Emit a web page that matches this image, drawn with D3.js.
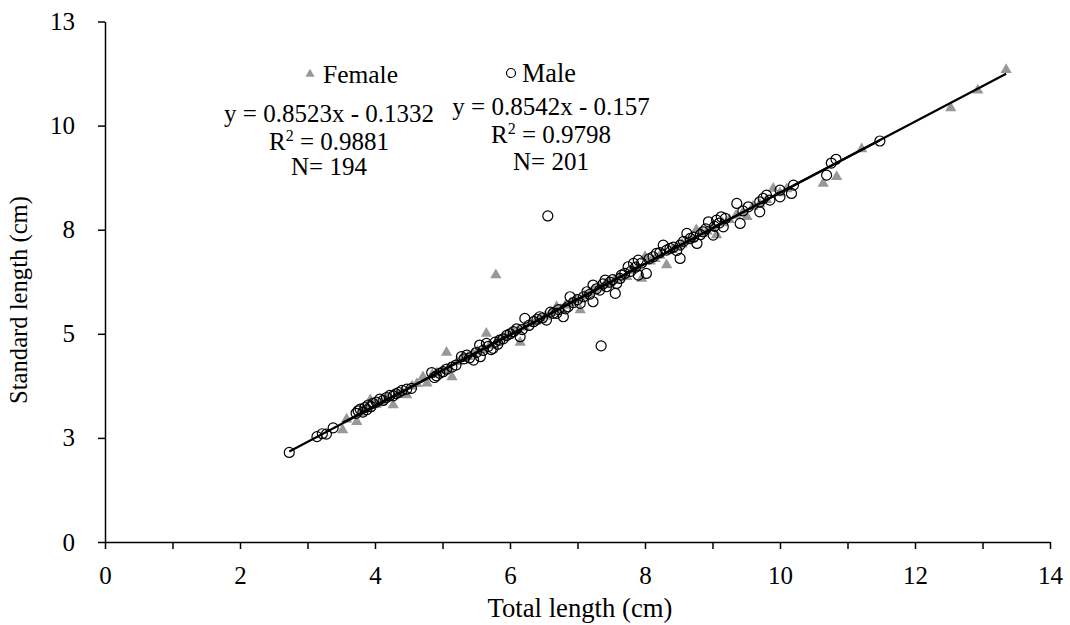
<!DOCTYPE html>
<html>
<head>
<meta charset="utf-8">
<script src="https://cdn.jsdelivr.net/npm/d3@7"></script>
<style>
  body { margin: 0; background: #fff; }
  svg { font-family: "Liberation Serif", "Times New Roman", serif; }
</style>
</head>
<body>
<svg width="1070" height="625"></svg>
<script>
// data: [total length, standard length] in cm
const female = [
  [3.52,2.69],[3.58,2.95],[3.73,2.89],[3.80,3.10],[3.88,3.22],[3.93,3.41],[4.02,3.30],[4.10,3.36],
  [4.18,3.45],[4.27,3.29],[4.33,3.55],[4.40,3.60],[4.47,3.53],[4.55,3.74],[4.62,3.80],[4.71,3.96],
  [4.77,3.81],[4.85,4.02],[4.92,4.06],[5.00,4.12],[5.06,4.55],[5.10,4.18],[5.14,3.96],[5.22,4.33],
  [5.30,4.40],[5.38,4.45],[5.45,4.52],[5.52,4.58],[5.60,4.62],[5.65,5.01],[5.70,4.72],[5.79,6.41],
  [5.82,4.84],[5.90,4.90],[5.98,4.96],[6.05,5.05],[6.12,5.08],[6.15,4.79],[6.22,5.16],[6.30,5.24],
  [6.38,5.30],[6.45,5.37],[6.52,5.42],[6.60,5.50],[6.69,5.65],[6.75,5.58],[6.82,5.68],[6.90,5.74],
  [6.98,5.82],[7.04,5.57],[7.10,5.90],[7.18,5.98],[7.25,6.05],[7.33,6.10],[7.40,6.17],[7.48,6.22],
  [7.55,6.30],[7.62,6.36],[7.73,6.37],[7.80,6.52],[7.88,6.58],[7.95,6.33],[8.00,6.85],[8.08,6.74],
  [8.15,6.80],[8.22,6.88],[8.32,6.65],[8.40,7.02],[8.48,7.10],[8.55,7.15],[8.62,7.22],[8.70,7.28],
  [8.76,7.49],[8.85,7.40],[8.92,7.46],[9.00,7.55],[9.06,7.37],[9.15,7.66],[9.25,7.74],[9.35,7.84],
  [9.45,7.92],[9.51,7.81],[9.60,8.06],[9.70,8.12],[9.80,8.22],[9.90,8.49],[10.00,8.38],[10.10,8.48],
  [10.64,8.61],[10.84,8.77],[11.21,9.44],[12.53,10.42],[12.93,10.85],[13.35,11.34]
];
const male = [
  [2.73,2.15],[3.14,2.53],[3.22,2.60],[3.28,2.59],[3.38,2.74],[3.72,3.09],[3.75,3.15],[3.78,3.19],
  [3.82,3.12],[3.85,3.23],[3.88,3.18],[3.90,3.29],[3.94,3.25],[3.97,3.33],[4.02,3.36],[4.07,3.43],
  [4.12,3.40],[4.17,3.47],[4.22,3.52],[4.27,3.51],[4.31,3.56],[4.35,3.59],[4.40,3.64],[4.47,3.67],
  [4.54,3.69],[4.84,4.07],[4.88,3.95],[4.91,3.99],[4.96,4.05],[5.01,4.09],[5.06,4.15],[5.14,4.20],
  [5.20,4.25],[5.28,4.45],[5.32,4.40],[5.36,4.49],[5.40,4.42],[5.46,4.37],[5.50,4.55],[5.55,4.73],
  [5.56,4.45],[5.60,4.60],[5.65,4.77],[5.68,4.70],[5.72,4.62],[5.75,4.65],[5.78,4.80],[5.82,4.75],
  [5.85,4.85],[5.90,4.88],[5.95,4.96],[6.00,5.00],[6.05,5.05],[6.10,5.12],[6.15,4.93],[6.18,5.10],
  [6.22,5.37],[6.28,5.20],[6.35,5.29],[6.40,5.35],[6.44,5.41],[6.48,5.38],[6.54,5.33],[6.56,7.83],
  [6.60,5.52],[6.64,5.49],[6.69,5.49],[6.72,5.58],[6.79,5.41],[6.82,5.60],[6.86,5.65],[6.89,5.89],
  [6.94,5.75],[7.00,5.82],[7.04,5.73],[7.09,5.89],[7.14,6.01],[7.18,5.95],[7.23,5.77],[7.23,6.17],
  [7.28,6.08],[7.33,6.05],[7.35,4.71],[7.38,6.20],[7.41,6.29],[7.43,6.13],[7.48,6.24],[7.52,6.30],
  [7.56,5.97],[7.58,6.21],[7.63,6.33],[7.65,6.41],[7.70,6.45],[7.75,6.61],[7.79,6.50],[7.83,6.69],
  [7.86,6.60],[7.90,6.77],[7.90,6.41],[7.95,6.70],[8.02,6.45],[8.06,6.80],[8.12,6.85],[8.17,6.93],
  [8.22,6.95],[8.27,7.13],[8.32,7.01],[8.37,7.05],[8.42,7.08],[8.47,7.00],[8.52,6.81],[8.52,7.13],
  [8.57,7.22],[8.62,7.41],[8.67,7.29],[8.72,7.32],[8.77,7.17],[8.82,7.38],[8.86,7.45],[8.90,7.52],
  [8.94,7.69],[9.01,7.37],[9.03,7.58],[9.06,7.73],[9.10,7.66],[9.13,7.81],[9.16,7.57],[9.19,7.77],
  [9.36,8.13],[9.41,7.65],[9.45,7.95],[9.53,8.05],[9.70,7.93],[9.70,8.17],[9.75,8.25],[9.80,8.33],
  [9.85,8.21],[10.00,8.45],[10.00,8.29],[10.17,8.37],[10.20,8.57],[10.69,8.81],[10.76,9.10],[10.83,9.19],
  [11.48,9.63]
];
// trendline coefficients [slope, intercept]
const femaleFit = [0.8523, -0.1332];
const maleFit = [0.8542, -0.157];
const femaleText = ["y = 0.8523x - 0.1332", "0.9881", "N= 194"];
const maleText = ["y = 0.8542x - 0.157", "0.9798", "N= 201"];
const xTicks = d3.range(0, 15, 1);
const yTicks = [0, 2.5, 5, 7.5, 10, 12.5];
const yTickLabels = ["0", "3", "5", "8", "10", "13"];

const svg = d3.select("svg");
const x = d3.scaleLinear().domain([0, 14]).range([105, 1050]);
const y = d3.scaleLinear().domain([0, 12.5]).range([542, 21.5]);

// shrink/grow a text so it spans the given width
function fitWidth(t, w) {
    const fs = +t.attr("font-size");
    t.attr("font-size", fs * w / t.node().getComputedTextLength());
    return t;
}

// axes
const gx = svg.append("g").attr("transform", `translate(0, ${y(0)})`)
    .call(d3.axisBottom(x).tickValues(xTicks).tickSize(7).tickSizeOuter(0)
        .tickFormat(d => d % 2 === 0 ? d : ""));
const gy = svg.append("g").attr("transform", `translate(${x(0)}, 0)`)
    .call(d3.axisLeft(y).tickValues(yTicks).tickSize(7).tickSizeOuter(0)
        .tickFormat((d, i) => yTickLabels[i]));
[gx, gy].forEach(g => {
    g.select(".domain").attr("stroke", "#000").attr("stroke-width", 1.5);
    g.selectAll(".tick line").attr("stroke", "#000").attr("stroke-width", 1.5);
    g.selectAll(".tick text").attr("font-family", "Liberation Serif").attr("font-size", 25).attr("fill", "#000");
});
gx.selectAll(".tick text").attr("dy", 0).attr("y", 42);
gy.selectAll(".tick text").attr("x", -30);

fitWidth(svg.append("text").attr("x", 580).attr("y", 617).attr("text-anchor", "middle")
    .attr("font-size", 22).text("Total length (cm)"), 185);
fitWidth(svg.append("text").attr("transform", "translate(27, 300) rotate(-90)").attr("text-anchor", "middle")
    .attr("font-size", 22).text("Standard length (cm)"), 208);

// points
const tri = d3.symbol().type(d3.symbolTriangle).size(55);
svg.append("g").selectAll("path").data(female).enter().append("path")
    .attr("transform", d => `translate(${x(d[0])}, ${y(d[1])})`)
    .attr("d", tri).attr("fill", "#989898");

svg.append("g").selectAll("circle").data(male).enter().append("circle")
    .attr("cx", d => x(d[0])).attr("cy", d => y(d[1])).attr("r", 5)
    .attr("fill", "none").attr("stroke", "#000").attr("stroke-width", 1.2);

// trendlines
[[female, femaleFit], [male, maleFit]].forEach(([data, fit]) => {
    const ext = d3.extent(data, d => d[0]);
    svg.append("line")
        .attr("x1", x(ext[0])).attr("y1", y(fit[0] * ext[0] + fit[1]))
        .attr("x2", x(ext[1])).attr("y2", y(fit[0] * ext[1] + fit[1]))
        .attr("stroke", "#000").attr("stroke-width", 2.2);
});

// legend
svg.append("path").attr("transform", "translate(310, 74)")
    .attr("d", d3.symbol().type(d3.symbolTriangle).size(36)).attr("fill", "#989898");
fitWidth(svg.append("text").attr("x", 323).attr("y", 83).attr("font-size", 22).text("Female"), 75);
svg.append("circle").attr("cx", 511).attr("cy", 73).attr("r", 4.5)
    .attr("fill", "none").attr("stroke", "#000").attr("stroke-width", 1.2);
fitWidth(svg.append("text").attr("x", 522).attr("y", 82).attr("font-size", 22).text("Male"), 54);

// equation labels
function eqBlock(cx, ys, t) {
    svg.append("text").attr("x", cx).attr("y", ys[0]).attr("text-anchor", "middle")
        .attr("font-size", 25).text(t[0]);
    const r = svg.append("text").attr("x", cx).attr("y", ys[1]).attr("text-anchor", "middle")
        .attr("font-size", 25);
    r.append("tspan").text("R");
    r.append("tspan").attr("dy", -9).attr("font-size", 16).text("2");
    r.append("tspan").attr("dy", 9).text(" = " + t[1]);
    svg.append("text").attr("x", cx).attr("y", ys[2]).attr("text-anchor", "middle")
        .attr("font-size", 25).text(t[2]);
}
eqBlock(329, [122, 150, 175], femaleText);
eqBlock(551, [115, 143, 170], maleText);
</script>
</body>
</html>
